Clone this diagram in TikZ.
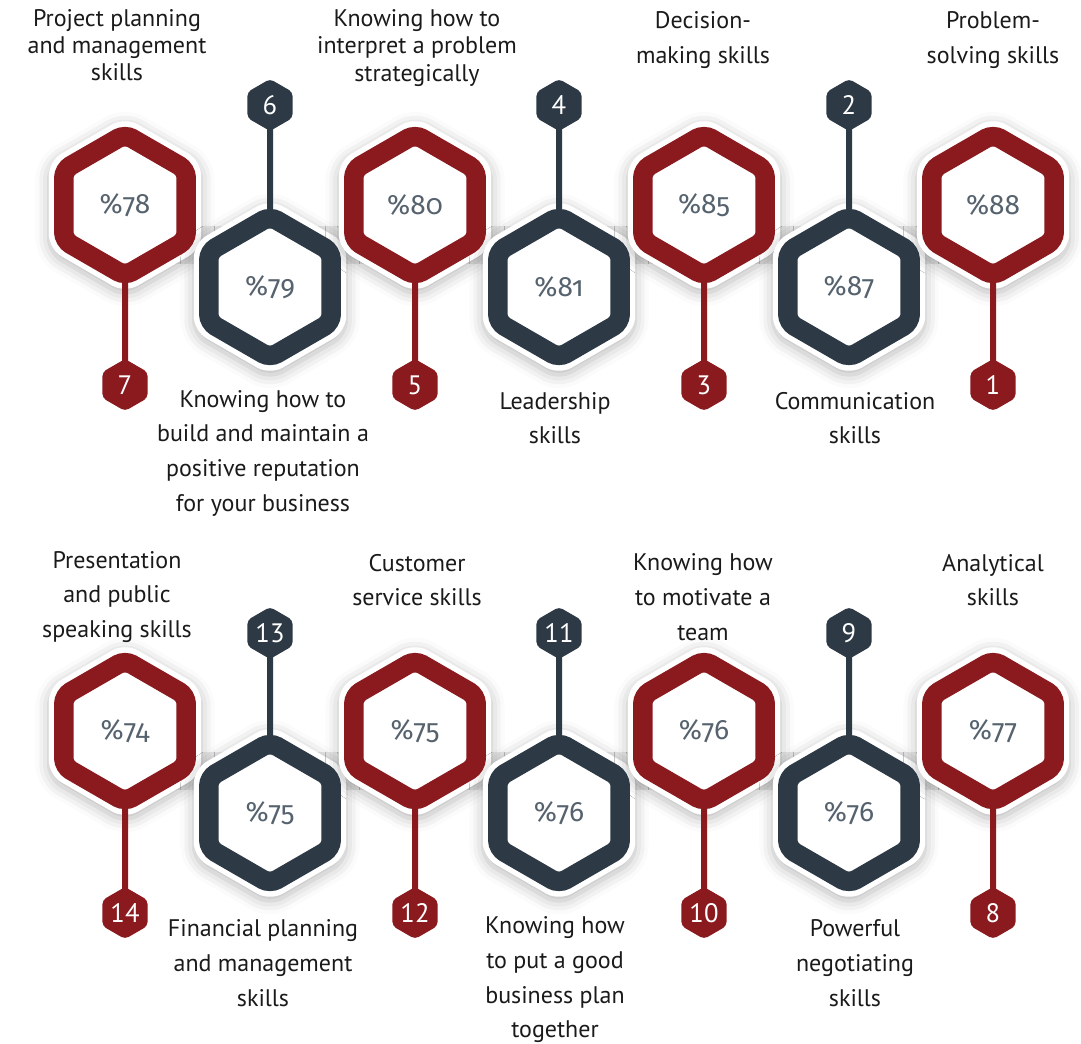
\documentclass[tikz,border=0pt]{standalone}
\usepackage{fontspec}
\setmainfont{PT Sans}
\newfontfamily\pctfont[Numbers=OldStyle]{Fira Sans}
\usetikzlibrary{shapes.geometric, shadows.blur}
\definecolor{hexred}{HTML}{8B1A1E}
\definecolor{hexdark}{HTML}{2D3A45}
\definecolor{pcttext}{HTML}{56636F}
\definecolor{bandfill}{HTML}{ECECEC}
\definecolor{labeltext}{HTML}{1A1A1A}
\tikzset{
  hexbase/.style={
    regular polygon,
    regular polygon sides=6,
    shape border rotate=30,
    inner sep=0pt
  },
  hexring/.style={
    hexbase,
    minimum size=106pt,
    line width=14.6pt,
    rounded corners=6pt,
    fill=white,
    text=pcttext,
    font=\pctfont\fontsize{21}{24}\selectfont
  },
  redring/.style={
    hexring,
    draw=hexred
  },
  darkring/.style={
    hexring,
    draw=hexdark
  },
  halo/.style={
    hexbase,
    minimum size=132pt,
    rounded corners=11pt,
    fill=white,
    blur shadow={shadow xshift=0pt, shadow yshift=-3pt,
      shadow blur radius=10pt, shadow opacity=28}
  },
  badge/.style={
    hexbase,
    minimum size=39pt,
    rounded corners=3pt,
    text=white,
    font=\fontsize{20}{22}\selectfont
  },
  redbadge/.style={
    badge,
    fill=hexred
  },
  darkbadge/.style={
    badge,
    fill=hexdark
  },
  stem/.style={
    line width=4.5pt,
    shorten >=-2pt
  },
  band/.style={
    fill=bandfill
  },
  skill/.style={
    align=center,
    text=labeltext,
    font=\fontsize{18}{26}\selectfont
  },
  skill-tight/.style={
    skill,
    font=\fontsize{18}{20.5}\selectfont
  }
}

\begin{document}
\begin{tikzpicture}[x=0.75pt, y=-0.75pt]
\useasboundingbox (0,0) rectangle (1081,1043);

% Grey bands joining each row.
\fill[band] (125,226) rectangle (993,264);
\fill[band] (125,752) rectangle (993,790);

% White halos, they also fix where each skill sits.
\node[halo] (halo7) at (125,205) {};
\node[halo] (halo6) at (270,287) {};
\node[halo] (halo5) at (415,205) {};
\node[halo] (halo4) at (559,287) {};
\node[halo] (halo3) at (704,205) {};
\node[halo] (halo2) at (849,287) {};
\node[halo] (halo1) at (993,205) {};
\node[halo] (halo14) at (125,731) {};
\node[halo] (halo13) at (270,813) {};
\node[halo] (halo12) at (415,731) {};
\node[halo] (halo11) at (559,813) {};
\node[halo] (halo10) at (704,731) {};
\node[halo] (halo9) at (849,813) {};
\node[halo] (halo8) at (993,731) {};

% Number badges.
\node[redbadge] (badge7) at (125,385) {7};
\node[darkbadge] (badge6) at (270,105) {6};
\node[redbadge] (badge5) at (415,385) {5};
\node[darkbadge] (badge4) at (559,105) {4};
\node[redbadge] (badge3) at (704,385) {3};
\node[darkbadge] (badge2) at (849,105) {2};
\node[redbadge] (badge1) at (993,385) {1};
\node[redbadge] (badge14) at (125,913) {14};
\node[darkbadge] (badge13) at (270,633) {13};
\node[redbadge] (badge12) at (415,913) {12};
\node[darkbadge] (badge11) at (559,633) {11};
\node[redbadge] (badge10) at (704,913) {10};
\node[darkbadge] (badge9) at (849,633) {9};
\node[redbadge] (badge8) at (993,913) {8};

% Stems: start under the rings, stop at the badge tip.
\draw[stem, hexred] (halo7.center) -- (badge7);
\draw[stem, hexdark] (halo6.center) -- (badge6);
\draw[stem, hexred] (halo5.center) -- (badge5);
\draw[stem, hexdark] (halo4.center) -- (badge4);
\draw[stem, hexred] (halo3.center) -- (badge3);
\draw[stem, hexdark] (halo2.center) -- (badge2);
\draw[stem, hexred] (halo1.center) -- (badge1);
\draw[stem, hexred] (halo14.center) -- (badge14);
\draw[stem, hexdark] (halo13.center) -- (badge13);
\draw[stem, hexred] (halo12.center) -- (badge12);
\draw[stem, hexdark] (halo11.center) -- (badge11);
\draw[stem, hexred] (halo10.center) -- (badge10);
\draw[stem, hexdark] (halo9.center) -- (badge9);
\draw[stem, hexred] (halo8.center) -- (badge8);

% Rings with the scores.
\node[redring] (hex7) at (halo7) {\%78};
\node[darkring] (hex6) at (halo6) {\%79};
\node[redring] (hex5) at (halo5) {\%80};
\node[darkring] (hex4) at (halo4) {\%81};
\node[redring] (hex3) at (halo3) {\%85};
\node[darkring] (hex2) at (halo2) {\%87};
\node[redring] (hex1) at (halo1) {\%88};
\node[redring] (hex14) at (halo14) {\%74};
\node[darkring] (hex13) at (halo13) {\%75};
\node[redring] (hex12) at (halo12) {\%75};
\node[darkring] (hex11) at (halo11) {\%76};
\node[redring] (hex10) at (halo10) {\%76};
\node[darkring] (hex9) at (halo9) {\%76};
\node[redring] (hex8) at (halo8) {\%77};

% Skill names, top row.
\node[skill-tight] (skill7) at (117,45) {Project planning\\and management\\skills};
\node[skill] (skill6) at (263,453) {Knowing how to\\build and maintain a\\positive reputation\\for your business};
\node[skill-tight] (skill5) at (417,48) {Knowing how to\\interpret a problem\\strategically};
\node[skill] (skill4) at (555,418) {Leadership\\skills};
\node[skill] (skill3) at (703,40) {Decision-\\making skills};
\node[skill] (skill2) at (855,418) {Communication\\skills};
\node[skill] (skill1) at (993,40) {Problem-\\solving skills};

% Skill names, bottom row.
\node[skill] (skill14) at (117,597) {Presentation\\and public\\speaking skills};
\node[skill] (skill13) at (263,963) {Financial planning\\and management\\skills};
\node[skill] (skill12) at (417,580) {Customer\\service skills};
\node[skill] (skill11) at (555,980) {Knowing how\\to put a good\\business plan\\together};
\node[skill] (skill10) at (703,597) {Knowing how\\to motivate a\\team};
\node[skill] (skill9) at (855,963) {Powerful\\negotiating\\skills};
\node[skill] (skill8) at (993,580) {Analytical\\skills};

\end{tikzpicture}
\end{document}
